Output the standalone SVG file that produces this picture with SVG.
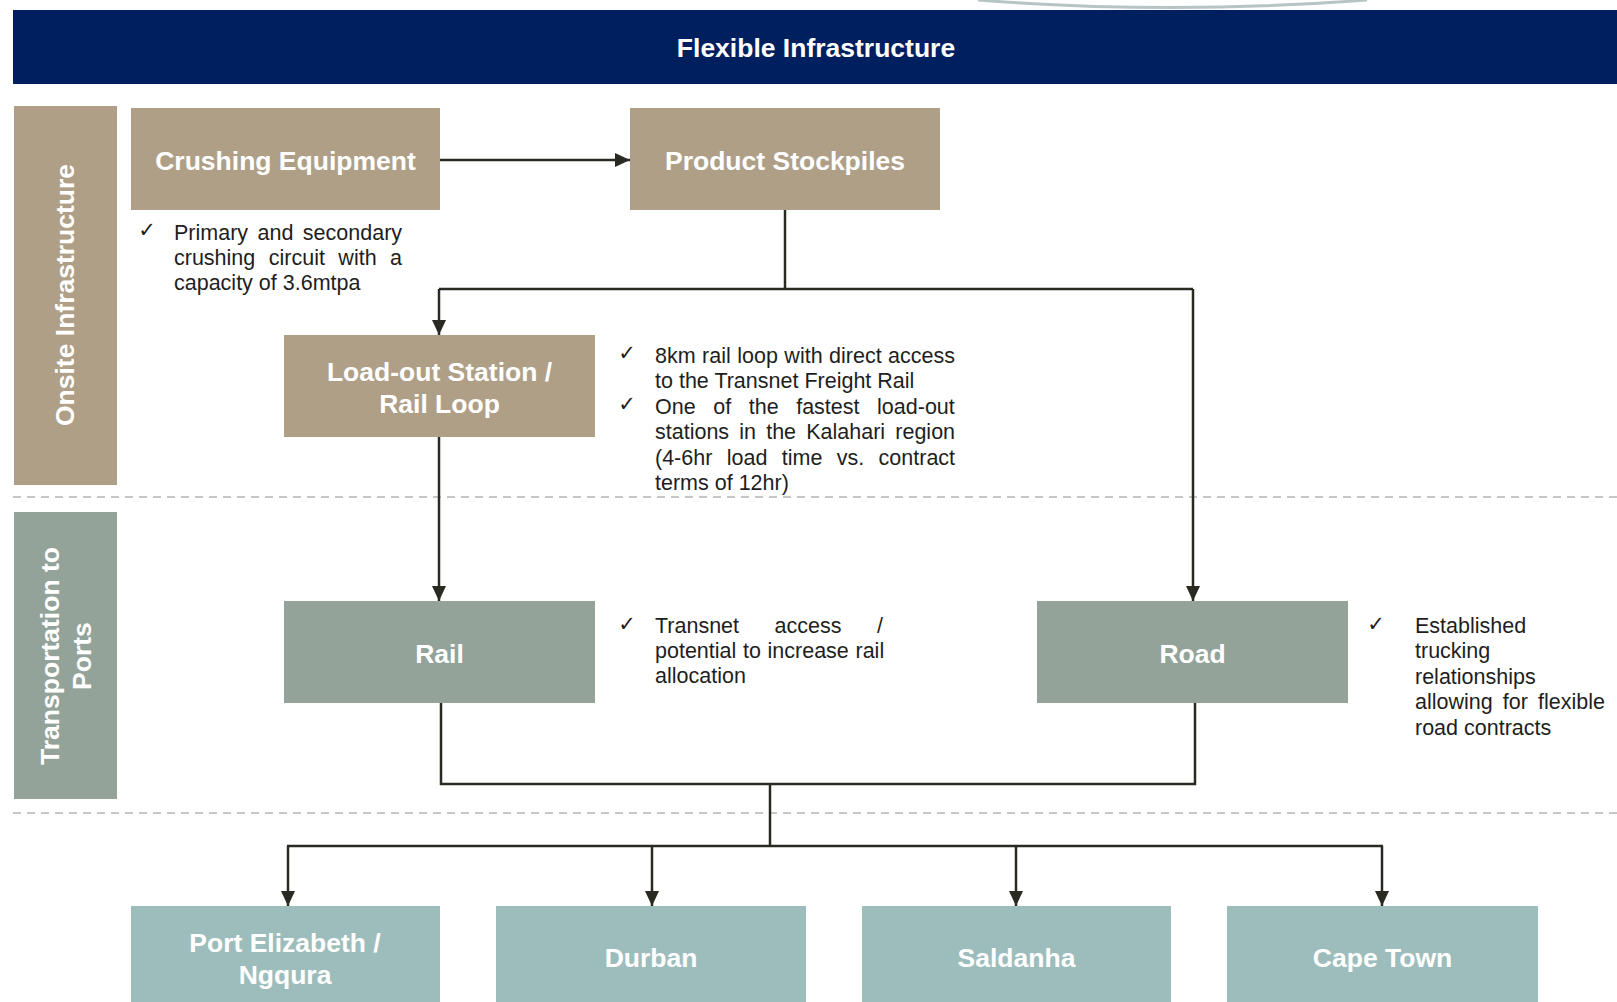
<svg xmlns="http://www.w3.org/2000/svg" width="1617" height="1002" viewBox="0 0 1617 1002">
<defs>
<style>
.lbl{font-family:"Liberation Sans",Arial,sans-serif;font-weight:bold;font-size:26.5px;fill:#ffffff;text-anchor:middle}
.body{font-family:"Liberation Sans",Arial,sans-serif;font-size:21.5px;fill:#1e1e1e}
.chk{font-family:"DejaVu Sans",sans-serif;font-size:21px;fill:#1e1e1e;text-anchor:middle}
.conn{stroke:#2b2a22;stroke-width:2.5;fill:none}
.dash{stroke:#c6c6c6;stroke-width:2;stroke-dasharray:8 6;fill:none}
.tan{fill:#b09f87}
.grn{fill:#94a39a}
.teal{fill:#9dbdbc}
</style>
<marker id="ah" viewBox="0 0 15 14" markerWidth="15" markerHeight="14" refX="15" refY="7" orient="auto" markerUnits="userSpaceOnUse">
<path d="M0,0 L15,7 L0,14 Z" fill="#2b2a22"/>
</marker>
</defs>
<rect width="1617" height="1002" fill="#ffffff"/>
<path d="M978,0 Q1172,15 1367,0" stroke="#b6c4c4" stroke-width="3" fill="none"/>

<g id="title">
<rect x="13" y="10" width="1604" height="74" fill="#001f5f"/>
<text class="lbl" x="816" y="57">Flexible Infrastructure</text>
</g>

<g id="band-onsite">
<rect class="tan" x="14" y="106" width="103" height="379"/>
<text class="lbl" transform="translate(74,295) rotate(-90)">Onsite Infrastructure</text>
</g>
<g id="band-transport">
<rect class="grn" x="14" y="512" width="103" height="287"/>
<text class="lbl" transform="translate(59,656) rotate(-90)">Transportation to</text>
<text class="lbl" transform="translate(91,656) rotate(-90)">Ports</text>
</g>

<g id="dividers">
<line class="dash" x1="13" y1="497" x2="1617" y2="497"/>
<line class="dash" x1="13" y1="813" x2="1617" y2="813"/>
</g>

<g id="connectors">
<line class="conn" x1="440" y1="160" x2="630" y2="160" marker-end="url(#ah)"/>
<polyline class="conn" points="785,210 785,289"/>
<line class="conn" x1="439" y1="289" x2="1193" y2="289"/>
<line class="conn" x1="439" y1="289" x2="439" y2="335" marker-end="url(#ah)"/>
<line class="conn" x1="1193" y1="289" x2="1193" y2="601" marker-end="url(#ah)"/>
<line class="conn" x1="439" y1="437" x2="439" y2="601" marker-end="url(#ah)"/>
<polyline class="conn" points="441,703 441,784 1195,784 1195,703" stroke-width="3"/>
<line class="conn" x1="770" y1="784" x2="770" y2="846" stroke-width="3"/>
<line class="conn" x1="287" y1="846" x2="1383" y2="846" stroke-width="3"/>
<line class="conn" x1="288" y1="846" x2="288" y2="906" marker-end="url(#ah)"/>
<line class="conn" x1="652" y1="846" x2="652" y2="906" marker-end="url(#ah)"/>
<line class="conn" x1="1016" y1="846" x2="1016" y2="906" marker-end="url(#ah)"/>
<line class="conn" x1="1382" y1="846" x2="1382" y2="906" marker-end="url(#ah)"/>
</g>

<g id="crushing">
<rect class="tan" x="131" y="108" width="309" height="102"/>
<text class="lbl" x="285.5" y="170">Crushing Equipment</text>
<text class="chk" x="147" y="237">✓</text>
<text class="body" x="174" y="240" word-spacing="3.5">Primary and secondary</text>
<text class="body" x="174" y="264.5" word-spacing="7.5">crushing circuit with a</text>
<text class="body" x="174" y="290">capacity of 3.6mtpa</text>
</g>

<g id="stockpiles">
<rect class="tan" x="630" y="108" width="310" height="102"/>
<text class="lbl" x="785" y="170">Product Stockpiles</text>
</g>

<g id="loadout">
<rect class="tan" x="284" y="335" width="311" height="102"/>
<text class="lbl" x="439.5" y="381">Load-out Station /</text>
<text class="lbl" x="439.5" y="413">Rail Loop</text>
<text class="chk" x="627" y="360">✓</text>
<text class="chk" x="627" y="411">✓</text>
<text class="body" x="655" y="362.5" word-spacing="0.5">8km rail loop with direct access</text>
<text class="body" x="655" y="388">to the Transnet Freight Rail</text>
<text class="body" x="655" y="413.5" word-spacing="11.6">One of the fastest load-out</text>
<text class="body" x="655" y="439" word-spacing="4.2">stations in the Kalahari region</text>
<text class="body" x="655" y="464.5" word-spacing="8.4">(4-6hr load time vs. contract</text>
<text class="body" x="655" y="490">terms of 12hr)</text>
</g>

<g id="rail">
<rect class="grn" x="284" y="601" width="311" height="102"/>
<text class="lbl" x="439.5" y="663">Rail</text>
<text class="chk" x="627" y="631">✓</text>
<text class="body" x="655" y="632.5" word-spacing="29.6">Transnet access /</text>
<text class="body" x="655" y="658" word-spacing="0.7">potential to increase rail</text>
<text class="body" x="655" y="683">allocation</text>
</g>

<g id="road">
<rect class="grn" x="1037" y="601" width="311" height="102"/>
<text class="lbl" x="1192.5" y="663">Road</text>
<text class="chk" x="1376" y="631">✓</text>
<text class="body" x="1415" y="632.5">Established</text>
<text class="body" x="1415" y="658">trucking</text>
<text class="body" x="1415" y="684">relationships</text>
<text class="body" x="1415" y="709" word-spacing="4.2">allowing for flexible</text>
<text class="body" x="1415" y="735">road contracts</text>
</g>

<g id="port-elizabeth">
<rect class="teal" x="131" y="906" width="309" height="96"/>
<text class="lbl" x="285" y="952">Port Elizabeth /</text>
<text class="lbl" x="285" y="984">Ngqura</text>
</g>
<g id="durban">
<rect class="teal" x="496" y="906" width="310" height="96"/>
<text class="lbl" x="651" y="967">Durban</text>
</g>
<g id="saldanha">
<rect class="teal" x="862" y="906" width="309" height="96"/>
<text class="lbl" x="1016.5" y="967">Saldanha</text>
</g>
<g id="cape-town">
<rect class="teal" x="1227" y="906" width="311" height="96"/>
<text class="lbl" x="1382.5" y="967">Cape Town</text>
</g>
</svg>
